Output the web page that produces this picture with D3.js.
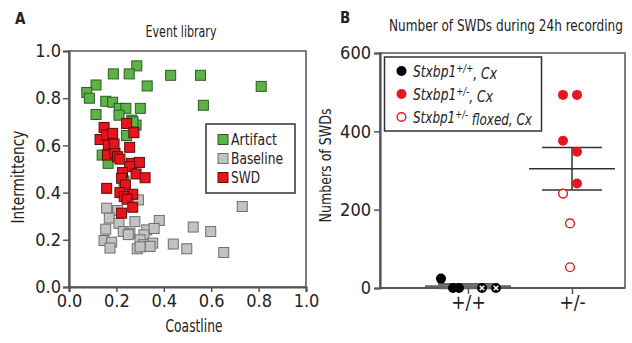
<!DOCTYPE html>
<html><head><meta charset="utf-8">
<script src="https://cdn.jsdelivr.net/npm/d3@7"></script>
<style>
body{margin:0;background:#fff;}
text{font-family:"Liberation Sans Narrow","DejaVu Sans Condensed",sans-serif;fill:#222;}
</style></head>
<body><svg id="c" width="632" height="343"></svg>
<script>
// ---------- Panel A data ----------
const artifactX = [0.286,0.187,0.254,0.429,0.555,0.114,0.330,0.811,0.075,0.086,0.155,0.184,0.567,0.212,0.240,0.301,0.114,0.211,0.265,0.283,0.270,0.243,0.140,0.165,0.232];
const artifactY = [0.937,0.903,0.903,0.897,0.897,0.856,0.852,0.850,0.824,0.800,0.787,0.783,0.770,0.757,0.757,0.757,0.731,0.728,0.707,0.686,0.700,0.642,0.559,0.524,0.449];
const baselineX = [0.159,0.205,0.293,0.170,0.211,0.278,0.381,0.731,0.155,0.229,0.257,0.328,0.359,0.524,0.598,0.316,0.250,0.148,0.180,0.300,0.353,0.440,0.314,0.173,0.288,0.497,0.653,0.342,0.300];
const baselineY = [0.334,0.324,0.369,0.292,0.270,0.277,0.282,0.341,0.245,0.235,0.228,0.242,0.248,0.254,0.235,0.221,0.222,0.197,0.190,0.200,0.186,0.182,0.179,0.165,0.162,0.162,0.146,0.172,0.170];
const swdX = [0.148,0.243,0.274,0.131,0.159,0.184,0.166,0.190,0.256,0.162,0.194,0.205,0.215,0.264,0.297,0.256,0.226,0.283,0.321,0.222,0.159,0.238,0.215,0.269,0.233,0.245,0.269,0.222];
const swdY = [0.676,0.693,0.654,0.625,0.644,0.651,0.601,0.606,0.592,0.559,0.566,0.552,0.542,0.524,0.528,0.510,0.485,0.479,0.463,0.461,0.418,0.432,0.400,0.393,0.383,0.372,0.338,0.313];
const axisTicksA = [0.0,0.2,0.4,0.6,0.8,1.0];
const legendA = ["Artifact","Baseline","SWD"];

// ---------- Panel B data ----------
const genotypes = ["+/+","+/-"];
const wtValues = [24,0,0,0,0];
const wtKind = ["filled","filled","filled","cross","cross"];
const wtJitter = [-27,-15,-9,14,28];
const hetValues = [493,493,376,348,267,241,165,53];
const hetKind = ["filled","filled","filled","filled","filled","open","open","open"];
const hetJitter = [-9,5,-9,5,5,-9,-2,-2];
const countTicks = [0,200,400,600];

const svg = d3.select("#c");
const axisCol = "#555";

// text squeezed horizontally to a target width (condensed look)
function fit(t,x,y,w,rot){
  const n = t.node().getComputedTextLength();
  const s = Math.min(1, w/n);
  t.attr("x",0).attr("y",0).attr("transform",`translate(${x},${y})${rot?" rotate(-90)":""} scale(${s},1)`);
  return t;
}
function label(g,x,y,str,size,len,rot){
  const t = g.append("text").attr("text-anchor","middle").style("font-size",size+"px").text(str);
  return fit(t,x,y,len,rot);
}

// ================= Panel A =================
const ax = d3.scaleLinear().domain([0,1]).range([69,306]);
const ay = d3.scaleLinear().domain([0,1]).range([287,51]);
const gA = svg.append("g");
gA.append("rect").attr("x",ax(0)).attr("y",ay(1)).attr("width",ax(1)-ax(0)).attr("height",ay(0)-ay(1))
  .attr("fill","none").attr("stroke",axisCol).attr("stroke-width",1.5);
const xAxA = gA.append("g").attr("transform",`translate(0,${ay(0)})`)
  .call(d3.axisBottom(ax).tickValues(axisTicksA).tickFormat(d3.format(".1f")).tickSizeOuter(0).tickSize(5));
const yAxA = gA.append("g").attr("transform",`translate(${ax(0)},0)`)
  .call(d3.axisLeft(ay).tickValues(axisTicksA).tickFormat(d3.format(".1f")).tickSizeOuter(0).tickSize(6));
[xAxA,yAxA].forEach(a=>{
  a.select(".domain").attr("stroke",axisCol).attr("stroke-width",2.2);
  a.selectAll(".tick line").attr("stroke",axisCol).attr("stroke-width",1.5);
  a.selectAll(".tick text").style("font-size","18px").attr("fill","#222");
});
xAxA.selectAll(".tick text").attr("y",7);
yAxA.selectAll(".tick text").attr("x",-8);

const sq = 10;
function drawSquares(xs,ys,fill,stroke){
  gA.append("g").selectAll("rect").data(xs.map((d,i)=>[d,ys[i]])).join("rect")
    .attr("x",d=>ax(d[0])-sq/2).attr("y",d=>ay(d[1])-sq/2).attr("width",sq).attr("height",sq)
    .attr("fill",fill).attr("stroke",stroke).attr("stroke-width",1);
}
const colA = {Artifact:["#5cb347","#2f5a26"],Baseline:["#c2c2c2","#6e6e6e"],SWD:["#e8141c","#5a0d0d"]};
drawSquares(artifactX,artifactY,...colA.Artifact);
drawSquares(baselineX,baselineY,...colA.Baseline);
drawSquares(swdX,swdY,...colA.SWD);

label(gA,181,37,"Event library",15,71);
label(gA,194,332,"Coastline",17,57);
label(gA,24,177,"Intermittency",17,93,true);
gA.append("text").attr("x",15).attr("y",24).style("font-size","15px").style("font-weight","bold").text("A");

// legend A
const lgA = gA.append("g");
lgA.append("rect").attr("x",206).attr("y",124).attr("width",89).attr("height",69).attr("fill","#fff").attr("stroke","#333").attr("stroke-width",1.5);
const legLenA = [46,52,29];
legendA.forEach((k,i)=>{
  const yy = 139.5 + i*19;
  lgA.append("rect").attr("x",218).attr("y",yy-sq/2).attr("width",sq).attr("height",sq).attr("fill",colA[k][0]).attr("stroke",colA[k][1]);
  const t = lgA.append("text").attr("dy","0.36em").style("font-size","16px").text(k);
  fit(t,231,yy,legLenA[i]);
});

// ================= Panel B =================
const bx = d3.scalePoint().domain(genotypes).range([468,572]);
const by = d3.scaleLinear().domain([0,600]).range([288,53]);
const gB = svg.append("g");
gB.append("rect").attr("x",380).attr("y",by(600)).attr("width",625-380).attr("height",by(0)-by(600))
  .attr("fill","none").attr("stroke",axisCol).attr("stroke-width",1.5);
const xAxB = gB.append("g").attr("transform",`translate(0,${by(0)})`).call(d3.axisBottom(bx).tickSize(6));
xAxB.select(".domain").remove();
gB.append("line").attr("x1",380).attr("x2",625).attr("y1",by(0)).attr("y2",by(0)).attr("stroke",axisCol).attr("stroke-width",2.2);
const yAxB = gB.append("g").attr("transform",`translate(380,0)`).call(d3.axisLeft(by).tickValues(countTicks).tickSizeOuter(0).tickSize(6));
[xAxB,yAxB].forEach(a=>{
  a.select(".domain").attr("stroke",axisCol).attr("stroke-width",2.2);
  a.selectAll(".tick line").attr("stroke",axisCol).attr("stroke-width",1.5);
  a.selectAll(".tick text").style("font-size","18px").attr("fill","#222");
});
xAxB.selectAll(".tick text").attr("y",8).style("font-size","19px");
yAxB.selectAll(".tick text").attr("x",-9);

// mean +/- SEM
function stats(v){const m=d3.mean(v);const s=d3.deviation(v)/Math.sqrt(v.length);return [m,s];}
[[genotypes[0],wtValues,"#666",2.5],[genotypes[1],hetValues,"#333",1.5]].forEach(([g,v,col,w])=>{
  const [m,s]=stats(v); const cx=bx(g);
  gB.append("line").attr("x1",cx-43).attr("x2",cx+43).attr("y1",by(m)).attr("y2",by(m)).attr("stroke",col).attr("stroke-width",1.6);
  [m-s,m+s].forEach(e=>gB.append("line").attr("x1",cx-30).attr("x2",cx+30).attr("y1",by(e)).attr("y2",by(e)).attr("stroke",col).attr("stroke-width",w));
  gB.append("line").attr("x1",cx).attr("x2",cx).attr("y1",by(m-s)).attr("y2",by(m+s)).attr("stroke",col).attr("stroke-width",1.5);
});

const r = 5;
function drawPts(vals,kinds,jit,g,fillCol){
  vals.forEach((v,i)=>{
    const cx = bx(g)+jit[i], cy = by(v);
    const k = kinds[i];
    if(k==="open"){
      gB.append("circle").attr("cx",cx).attr("cy",cy).attr("r",r-0.6).attr("fill","#fff").attr("stroke",fillCol).attr("stroke-width",1.4);
    } else {
      gB.append("circle").attr("cx",cx).attr("cy",cy).attr("r",r).attr("fill",fillCol);
      if(k==="cross"){
        gB.append("path").attr("d",`M${cx-2.3},${cy-2.3}L${cx+2.3},${cy+2.3}M${cx-2.3},${cy+2.3}L${cx+2.3},${cy-2.3}`).attr("stroke","#fff").attr("stroke-width",1.5);
      }
    }
  });
}
drawPts(wtValues,wtKind,wtJitter,genotypes[0],"#000");
drawPts(hetValues,hetKind,hetJitter,genotypes[1],"#e8171f");

label(gB,506,31,"Number of SWDs during 24h recording",16,234);
label(gB,331,165.5,"Numbers of SWDs",16,114,true);
gB.append("text").attr("x",340).attr("y",23).style("font-size","15px").style("font-weight","bold").text("B");

// legend B
const lgB = gB.append("g");
lgB.append("rect").attr("x",384.5).attr("y",57).attr("width",157).attr("height",74).attr("fill","#fff").attr("stroke","#333").attr("stroke-width",1.5);
const legB = [["+/+",", Cx","filled","#000",84],["+/-",", Cx","filled","#e8171f",80],["+/-"," floxed, Cx","open","#e8171f",119]];
legB.forEach((d,i)=>{
  const yy = 71 + i*23;
  if(d[2]==="open") lgB.append("circle").attr("cx",401.5).attr("cy",yy).attr("r",4.3).attr("fill","#fff").attr("stroke",d[3]).attr("stroke-width",1.4);
  else lgB.append("circle").attr("cx",401.5).attr("cy",yy).attr("r",5).attr("fill",d[3]);
  const t = lgB.append("text").attr("dy","0.38em").style("font-size","16px").style("font-style","italic");
  t.append("tspan").text("Stxbp1");
  t.append("tspan").attr("dy","-0.45em").style("font-size","11px").text(d[0]);
  t.append("tspan").attr("dy","0.45em").text(d[1]);
  fit(t,413,yy,d[4]);
});
</script></body></html>
